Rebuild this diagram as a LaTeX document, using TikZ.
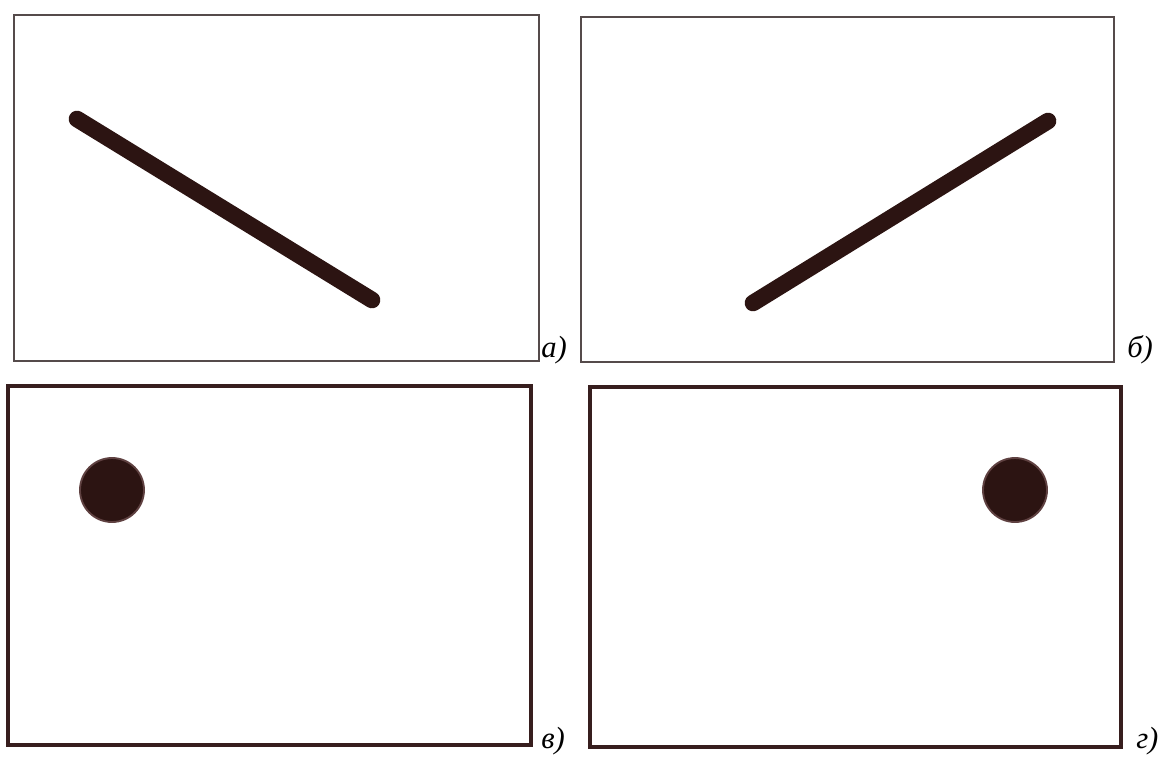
\documentclass[tikz,border=0pt]{standalone}
\usepackage{fontspec}
\setmainfont{Liberation Serif}
\definecolor{rodbrown}{RGB}{44,20,18}
\definecolor{rimbrown}{RGB}{95,65,65}
\definecolor{framegray}{RGB}{85,75,75}
\definecolor{framebrown}{RGB}{55,30,30}

\begin{document}
\begin{tikzpicture}[
  x=0.75pt, y=-0.75pt,
  thinframe/.style={draw=framegray, line width=1.2pt},
  thickframe/.style={draw=framebrown, line width=2.6pt},
  rod/.style={draw=rodbrown, line width=12.5pt, line cap=round},
  disc/.style={fill=rodbrown, draw=rimbrown, line width=1.4pt},
  caption/.style={anchor=base west, inner sep=0pt, font=\fontsize{23}{26}\selectfont\itshape}
]
\useasboundingbox (0,0) rectangle (1166,758);

% frames
\draw[thinframe] (14,15) rectangle (539,361);
\draw[thinframe] (581,17) rectangle (1114,362);
\draw[thickframe] (8,386) rectangle (531,745);
\draw[thickframe] (590,387) rectangle (1121,747);

% rods
\coordinate (a1) at (77,119);
\coordinate (a2) at (372,300);
\coordinate (b1) at (1048,121);
\coordinate (b2) at (753,303);
\draw[rod] (a1) -- (a2);
\draw[rod] (b1) -- (b2);

% discs
\coordinate (c) at (112,490);
\coordinate (d) at (1015,490);
\draw[disc] (c) circle (24pt);
\draw[disc] (d) circle (24pt);

% captions
\node[caption] (capa) at (541,357) {а)};
\node[caption] (capb) at (1127,357) {б)};
\node[caption] (capc) at (541,748) {в)};
\node[caption] (capd) at (1136,748) {г)};
\end{tikzpicture}
\end{document}
